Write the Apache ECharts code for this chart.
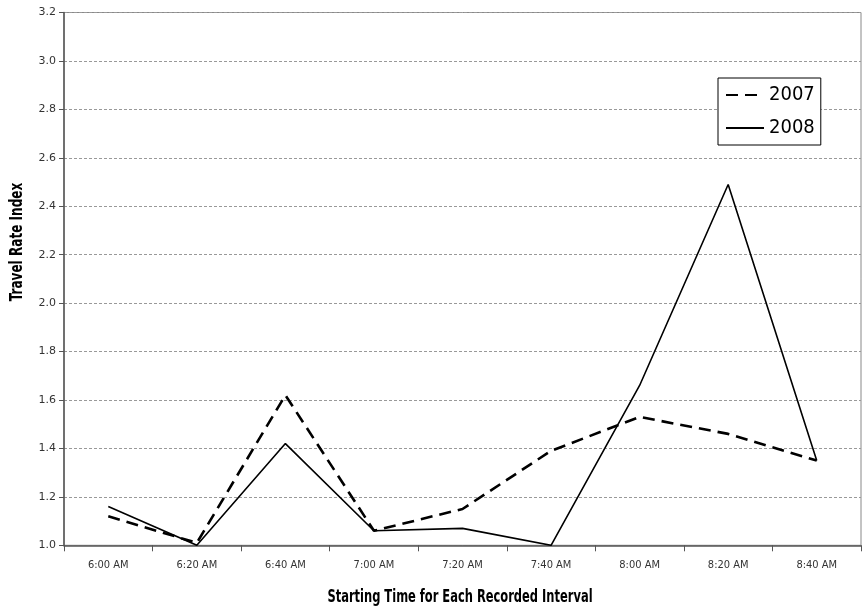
<!DOCTYPE html>
<html><head><meta charset="utf-8">
<script src="https://cdn.jsdelivr.net/npm/echarts@6/dist/echarts.min.js"></script>
<style>html,body{margin:0;padding:0;background:#fff}#c{width:865px;height:613px}</style>
</head><body><div id="c"></div>
<script>
const categories = ['6:00 AM','6:20 AM','6:40 AM','7:00 AM','7:20 AM','7:40 AM','8:00 AM','8:20 AM','8:40 AM'];
const values2007 = [1.12, 1.01, 1.62, 1.06, 1.15, 1.39, 1.53, 1.46, 1.35];
const values2008 = [1.16, 1.00, 1.42, 1.06, 1.07, 1.00, 1.66, 2.49, 1.35];
const seriesNames = ['2007', '2008'];
const yTitle = 'Travel Rate Index';
const xTitle = 'Starting Time for Each Recorded Interval';

const FONT = '"DejaVu Sans Condensed", sans-serif';
const chart = echarts.init(document.getElementById('c'), null, {renderer: 'canvas'});
chart.setOption({
  animation: false,
  backgroundColor: '#fff',
  textStyle: {fontFamily: FONT},
  grid: {left: 64, right: 4, top: 12.5, bottom: 67.7, show: true, borderColor: '#888', borderWidth: 1},
  legend: {
    left: 718, top: 78, orient: 'vertical',
    backgroundColor: '#fff', borderColor: '#000', borderWidth: 1, borderRadius: 0,
    padding: [7, 6, 7, 7], itemWidth: 38, itemHeight: 24, itemGap: 13,
    itemStyle: {opacity: 0},
    textStyle: {fontFamily: FONT, fontSize: 20, color: '#000', padding: [0,0,0,0]},
    data: seriesNames
  },
  xAxis: {
    type: 'category', data: categories, boundaryGap: true,
    axisLine: {lineStyle: {color: '#555', width: 1.5}},
    axisTick: {show: true, length: 6, lineStyle: {color: '#555'}},
    axisLabel: {color: '#333', fontSize: 11, margin: 14, fontFamily: FONT},
    splitLine: {show: false}
  },
  yAxis: {
    type: 'value', min: 1.0, max: 3.2, interval: 0.2,
    axisLine: {show: true, lineStyle: {color: '#555', width: 1.5}},
    axisTick: {show: true, length: 5, lineStyle: {color: '#555'}},
    axisLabel: {color: '#333', fontSize: 11, margin: 8, fontFamily: '"DejaVu Sans", sans-serif', formatter: v => v.toFixed(1)},
    splitLine: {show: true, lineStyle: {color: '#999', type: [3, 2], width: 1}}
  },
  series: [
    {name: seriesNames[0], type: 'line', data: values2007, symbol: 'none',
     lineStyle: {color: '#000', width: 2.6, type: [12, 7]}, itemStyle: {color: '#000'}},
    {name: seriesNames[1], type: 'line', data: values2008, symbol: 'none',
     lineStyle: {color: '#000', width: 1.6, type: 'solid'}, itemStyle: {color: '#000'}}
  ],
  graphic: [
    {type: 'text', x: 18, y: 242, rotation: Math.PI/2, scaleX: 0.79,
     style: {text: yTitle, fontFamily: FONT, fontSize: 17, fontWeight: 'bold', fill: '#000', align: 'center', verticalAlign: 'middle'}},
    {type: 'text', x: 460, y: 598, scaleX: 0.75,
     style: {text: xTitle, fontFamily: FONT, fontSize: 17, fontWeight: 'bold', fill: '#000', align: 'center', verticalAlign: 'middle'}}
  ]
});
</script></body></html>
